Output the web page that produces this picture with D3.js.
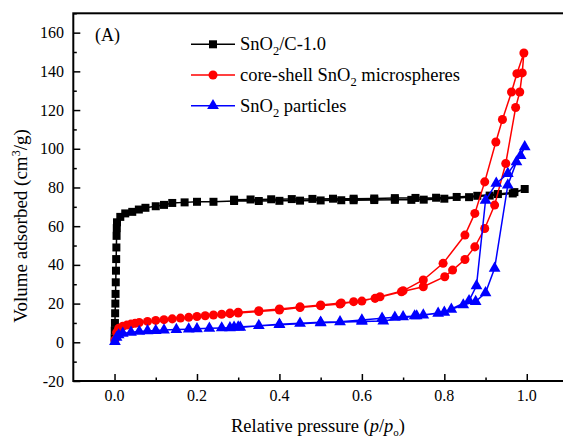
<!DOCTYPE html>
<html>
<head>
<meta charset="utf-8">
<script src="https://cdn.jsdelivr.net/npm/d3@7"></script>
<style>
  body { margin: 0; background: #fff; }
  svg { display: block; font-family: "Liberation Serif", "Times New Roman", serif; }
</style>
</head>
<body>
<div id="chart"></div>
<script>
// SnO2/C-1.0 (adsorption then desorption)
const carbonP = [0.0002, 0.0005, 0.001, 0.0015, 0.002, 0.0025, 0.003, 0.0035, 0.004, 0.0045, 0.005, 0.0055, 0.006,
  0.014, 0.026, 0.043, 0.059, 0.075, 0.1, 0.12, 0.14, 0.17, 0.2, 0.24, 0.29, 0.35, 0.4, 0.45, 0.5, 0.55, 0.58,
  0.63, 0.68, 0.72, 0.75, 0.8, 0.86, 0.91, 0.966, 0.995,
  0.97, 0.93, 0.88, 0.83, 0.78, 0.73, 0.68, 0.63, 0.58, 0.53, 0.48, 0.43, 0.38, 0.33, 0.29];
const carbonV = [2, 6, 10, 15, 20, 25, 31, 37, 43, 49, 55, 59, 62,
  64.8, 66.6, 67.4, 68.6, 69.5, 70.3, 71, 72, 72.3, 72.6, 72.6, 73, 73, 73.1, 73.2, 73.3, 73.4, 73.4,
  73.5, 73.6, 73.6, 73.7, 74.2, 75, 75.8, 76.9, 79.2,
  77.6, 76.6, 75.7, 75.1, 74.7, 74.6, 74.5, 74.3, 74.2, 74.2, 74.1, 74, 73.9, 73.8, 73.7];

// core-shell SnO2 microspheres
const shellP = [0.001, 0.005, 0.01, 0.02, 0.03, 0.04, 0.05, 0.06, 0.08, 0.1, 0.12, 0.14, 0.16, 0.18, 0.2,
  0.22, 0.24, 0.26, 0.28, 0.3, 0.35, 0.4, 0.45, 0.5, 0.547, 0.58, 0.632, 0.696, 0.749, 0.801, 0.82, 0.85,
  0.874, 0.898, 0.922, 0.949, 0.973, 0.983, 0.989, 0.993,
  0.976, 0.963, 0.941, 0.925, 0.898, 0.874, 0.85, 0.797, 0.749, 0.70, 0.644, 0.60, 0.55, 0.5, 0.45, 0.4,
  0.35, 0.3, 0.28];
const shellV = [1.2, 5, 7.2, 8.3, 8.9, 9.4, 9.8, 10.2, 10.8, 11.3, 11.7, 12.1, 12.5, 12.9, 13.3,
  13.7, 14.1, 14.5, 14.8, 15.1, 15.9, 16.7, 18, 18.9, 19.8, 21, 22.7, 26.1, 28.7, 33.9, 37.3, 42.8,
  49.3, 58.8, 70.9, 92.4, 121.3, 129.3, 139.2, 149.5,
  138.8, 129.3, 115.1, 103.5, 82.9, 66.6, 55.4, 40.8, 32.2, 26.6, 23.5, 21.3, 20.3, 19.3, 18.3, 17.2,
  16.3, 15.5, 15.1];

// SnO2 particles
const partP = [0.001, 0.005, 0.01, 0.02, 0.04, 0.06, 0.08, 0.1, 0.12, 0.15, 0.18, 0.2, 0.23, 0.26, 0.28, 0.305,
  0.35, 0.4, 0.45, 0.5, 0.547, 0.6, 0.649, 0.68, 0.70, 0.733, 0.749, 0.785, 0.817, 0.846, 0.876, 0.90,
  0.922, 0.954, 0.975, 0.995,
  0.985, 0.954, 0.926, 0.90, 0.878, 0.86, 0.80, 0.728, 0.652, 0.6, 0.5, 0.4, 0.3, 0.29];
const partV = [0.4, 2.5, 3.8, 4.6, 5.2, 5.6, 5.9, 6.1, 6.3, 6.6, 6.8, 7, 7.2, 7.4, 7.5, 7.7,
  8.6, 9.3, 9.8, 10.3, 10.6, 11.5, 12.4, 12.9, 13.2, 13.6, 14.1, 15, 17, 19.3, 21, 25.6,
  38.2, 81.2, 93.2, 101,
  96.5, 87.2, 82.1, 73.4, 29.2, 21.5, 15.5, 13.6, 11, 10.8, 10.1, 9.1, 7.9, 7.8];

const seriesNames = ["SnO\u2082/C-1.0", "core-shell SnO\u2082 microspheres", "SnO\u2082 particles"];
const xTicks = [0, 0.2, 0.4, 0.6, 0.8, 1.0];
const yTicks = [-20, 0, 20, 40, 60, 80, 100, 120, 140, 160];

const W = 563, H = 438;
const margin = {top: 13.3, left: 73.3, bottom: H - 381, right: -5};

const x = d3.scaleLinear().domain([-0.1, 1.1]).range([margin.left, W - margin.right]);
const y = d3.scaleLinear().domain([-20, 170]).range([381, margin.top]);

const svg = d3.select("#chart").append("svg").attr("width", W).attr("height", H);

const series = [
  {p: carbonP, v: carbonV, color: "#000000", shape: d3.symbolSquare, size: 64},
  {p: shellP, v: shellV, color: "#ff0000", shape: d3.symbolCircle, size: 64},
  {p: partP, v: partV, color: "#0000ff", shape: d3.symbolTriangle, size: 60}
];

const line = d3.line().x(d => x(d[0])).y(d => y(d[1]));

const plot = svg.append("g");
series.forEach(s => {
  const pts = s.p.map((p, i) => [p, s.v[i]]);
  plot.append("path")
    .attr("d", line(pts))
    .attr("fill", "none")
    .attr("stroke", s.color)
    .attr("stroke-width", 1.5);
  plot.selectAll(null)
    .data(pts)
    .join("path")
      .attr("transform", d => `translate(${x(d[0])},${y(d[1])})`)
      .attr("d", d3.symbol().type(s.shape).size(s.size))
      .attr("fill", s.color);
});

// axes, ticks pointing inward
svg.append("g")
  .attr("transform", `translate(0,${y(-20)})`)
  .call(d3.axisTop(x).tickValues(xTicks).tickSize(7).tickFormat(""));
svg.append("g")
  .attr("transform", `translate(0,${y(-20)})`)
  .call(d3.axisTop(x).tickValues(d3.range(0.1, 1.01, 0.2)).tickSize(3.5).tickFormat(""));

svg.append("g")
  .attr("transform", `translate(${x(-0.1)},0)`)
  .call(d3.axisRight(y).tickValues(yTicks).tickSize(7).tickFormat(""));
svg.append("g")
  .attr("transform", `translate(${x(-0.1)},0)`)
  .call(d3.axisRight(y).tickValues(d3.range(-10, 171, 20)).tickSize(3.5).tickFormat(""));

svg.selectAll(".domain").remove();
svg.selectAll(".tick line").attr("stroke", "#000").attr("stroke-width", 1.5);

// frame
svg.append("rect")
  .attr("x", x(-0.1)).attr("y", y(170))
  .attr("width", x(1.1) - x(-0.1)).attr("height", y(-20) - y(170))
  .attr("fill", "none").attr("stroke", "#000").attr("stroke-width", 2);

// tick labels
svg.append("g").selectAll("text")
  .data(xTicks)
  .join("text")
    .attr("x", d => x(d))
    .attr("y", 401)
    .attr("text-anchor", "middle")
    .attr("font-size", 16)
    .text(d => d.toFixed(1));

svg.append("g").selectAll("text")
  .data(yTicks)
  .join("text")
    .attr("x", 64)
    .attr("y", d => y(d) + 5.5)
    .attr("text-anchor", "end")
    .attr("font-size", 16)
    .text(d => d);

// axis titles
const xt = svg.append("text")
  .attr("x", 318).attr("y", 432)
  .attr("text-anchor", "middle")
  .attr("font-size", 18.5);
xt.append("tspan").text("Relative pressure (");
xt.append("tspan").attr("font-style", "italic").text("p");
xt.append("tspan").text("/");
xt.append("tspan").attr("font-style", "italic").text("p");
xt.append("tspan").attr("font-size", 11).attr("dy", 3.5).text("o");
xt.append("tspan").attr("dy", -3.5).text(")");

const yt = svg.append("text")
  .attr("transform", "translate(27,226) rotate(-90)")
  .attr("text-anchor", "middle")
  .attr("font-size", 19);
yt.append("tspan").text("Volume adsorbed (cm");
yt.append("tspan").attr("font-size", 12).attr("dy", -7).text("3");
yt.append("tspan").attr("dy", 7).text("/g)");

svg.append("text")
  .attr("x", 95).attr("y", 41)
  .attr("font-size", 18)
  .text("(A)");

// legend
const legend = svg.append("g");
series.forEach((s, i) => {
  const ly = 44.3 + i * 30.7;
  legend.append("line")
    .attr("x1", 191).attr("x2", 235).attr("y1", ly).attr("y2", ly)
    .attr("stroke", s.color).attr("stroke-width", 1.5);
  legend.append("path")
    .attr("transform", `translate(213,${ly})`)
    .attr("d", d3.symbol().type(s.shape).size(s.size))
    .attr("fill", s.color);
  const t = legend.append("text")
    .attr("x", 240).attr("y", ly + 6)
    .attr("font-size", 18.5);
  const parts = seriesNames[i].split("\u2082");
  t.append("tspan").text(parts[0]);
  t.append("tspan").attr("font-size", 12.5).attr("dy", 5).text("2");
  t.append("tspan").attr("dy", -5).text(parts[1]);
});
</script>
</body>
</html>
